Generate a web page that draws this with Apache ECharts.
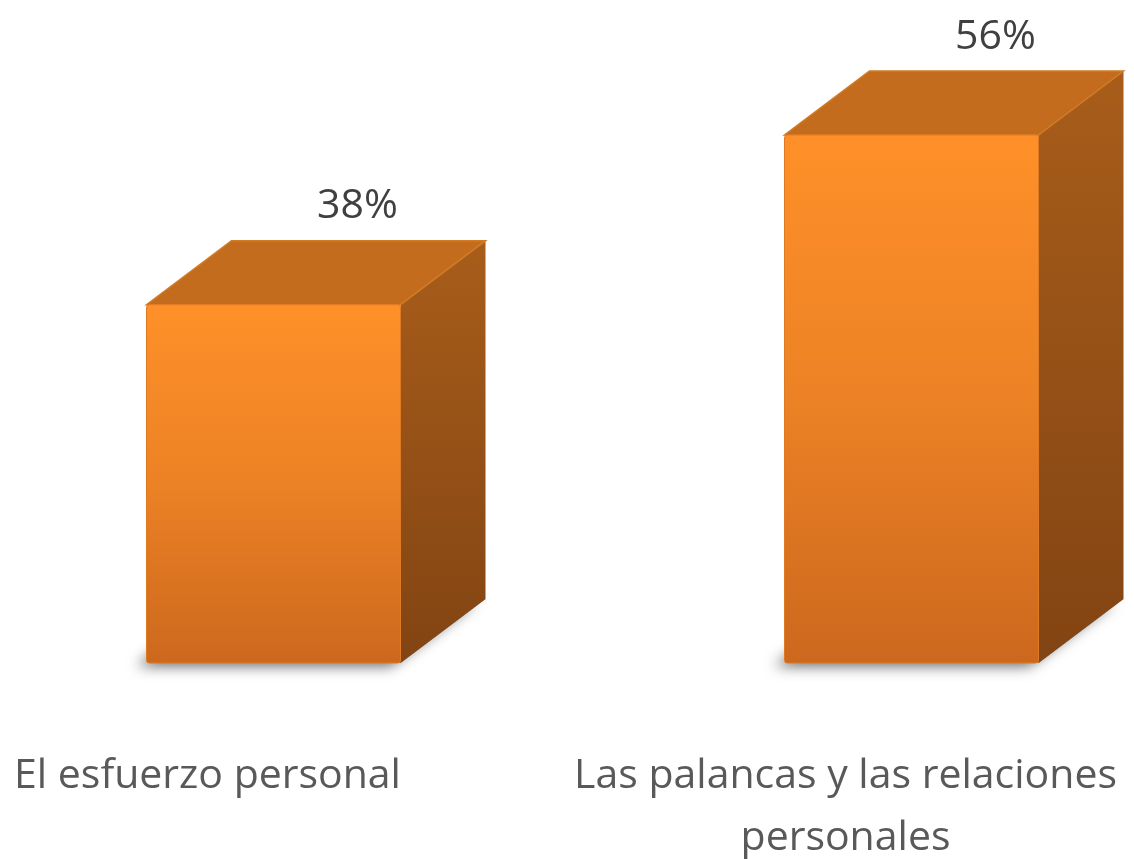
<!DOCTYPE html>
<html>
<head>
<meta charset="utf-8">
<script src="https://cdn.jsdelivr.net/npm/echarts@6/dist/echarts.min.js"></script>
<style>
  html, body { margin: 0; padding: 0; background: #fff; }
  #main { width: 1134px; height: 859px; }
</style>
</head>
<body>
<div id="main"></div>
<script>
// categorias y valores (%)
var categorias = ['El esfuerzo personal', 'Las palancas y las relaciones\npersonales'];
var valores = [38, 56];

var myChart = echarts.init(document.getElementById('main'));

var halfW = 127;   // media anchura de la cara frontal
var depthX = 85;   // desplazamiento de la profundidad
var depthY = -64;

function renderBar3D(params, api) {
    var idx = api.value(0);
    var val = api.value(1);
    var base = api.coord([idx, 0]);
    var top = api.coord([idx, val]);
    var c = base[0];
    var yb = base[1];
    var yt = top[1];
    var l = c - halfW, r = c + halfW;

    return {
        type: 'group',
        children: [
            { // sombra en el suelo
                type: 'polygon',
                shape: { points: [[l, yb], [r, yb], [r + depthX, yb + depthY], [l + depthX, yb + depthY]] },
                style: { fill: '#777', shadowBlur: 14, shadowOffsetX: -10, shadowOffsetY: 3, shadowColor: 'rgba(0,0,0,0.6)' }
            },
            { // cara lateral
                type: 'polygon',
                shape: { points: [[r, yt], [r + depthX, yt + depthY], [r + depthX, yb + depthY], [r, yb]] },
                style: {
                    fill: new echarts.graphic.LinearGradient(0, 0, 0, 1, [
                        { offset: 0, color: '#A85D1A' },
                        { offset: 1, color: '#824413' }
                    ])
                }
            },
            { // cara superior
                type: 'polygon',
                shape: { points: [[l, yt], [r, yt], [r + depthX, yt + depthY], [l + depthX, yt + depthY]] },
                style: { fill: '#C36C1E', stroke: '#D27A24', lineWidth: 1.5 }
            },
            { // cara frontal
                type: 'rect',
                shape: { x: l, y: yt, width: 2 * halfW, height: yb - yt, r: 3 },
                style: {
                    fill: new echarts.graphic.LinearGradient(0, 0, 0, 1, [
                        { offset: 0, color: '#FF9029' },
                        { offset: 0.5, color: '#EC8225' },
                        { offset: 1, color: '#CC681E' }
                    ]),
                    stroke: '#E07A22', lineWidth: 1
                }
            },
            { // etiqueta del valor
                type: 'text',
                x: c + depthX - 1,
                y: yt + depthY - 34,
                style: {
                    text: val + '%',
                    fill: '#404040',
                    font: '41px "Open Sans"',
                    align: 'center',
                    verticalAlign: 'middle'
                }
            }
        ]
    };
}

var option = {
    backgroundColor: '#ffffff',
    animation: false,
    grid: { left: 273.5, right: 222.5, top: 3, bottom: 196, containLabel: false, outerBoundsMode: 'none' },
    xAxis: {
        type: 'category',
        data: categorias,
        boundaryGap: false,
        axisLine: { show: false },
        axisTick: { show: false },
        axisLabel: {
            interval: 0,
            margin: 82,
            color: '#595959',
            fontFamily: 'Open Sans',
            fontSize: 41,
            lineHeight: 62,
            align: 'center',
            padding: [0, 132, 0, 0]
        }
    },
    yAxis: {
        type: 'value',
        min: 0,
        max: 70,
        show: false
    },
    series: [{
        type: 'custom',
        renderItem: renderBar3D,
        data: valores.map(function (v, i) { return [i, v]; })
    }]
};

myChart.setOption(option);
</script>
</body>
</html>
